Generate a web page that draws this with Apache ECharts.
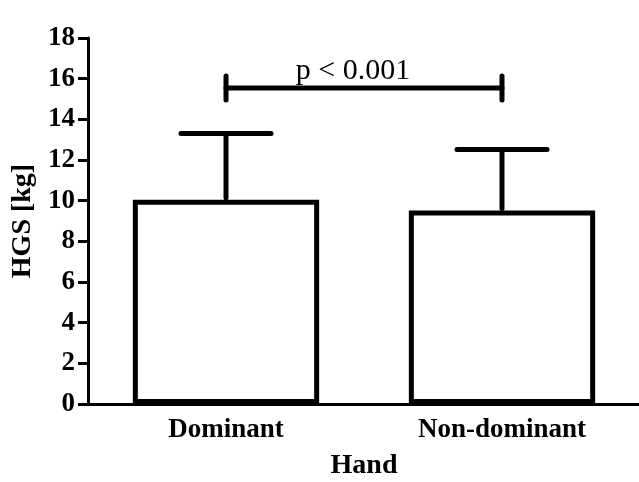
<!DOCTYPE html>
<html><head><meta charset="utf-8">
<script src="https://cdn.jsdelivr.net/npm/echarts@6/dist/echarts.min.js"></script>
<style>html,body{margin:0;padding:0;background:#fff}#c{width:639px;height:482px}</style>
</head><body><div id="c"></div>
<script>
const categories = ['Dominant', 'Non-dominant'];
const means = [10.05, 9.52];
const sdUpper = [13.3, 12.52];
const sigLevel = 15.54;
const sigText = 'p < 0.001';
const yTicks = [0, 2, 4, 6, 8, 10, 12, 14, 16, 18];

const F = '"Liberation Serif", "Times New Roman", serif';
const chart = echarts.init(document.getElementById('c'));
chart.setOption({
  animation: false,
  grid: {left: 88, right: -1, top: 38, bottom: 78, containLabel: false, outerBoundsMode: 'none'},
  xAxis: {
    type: 'category', data: categories,
    axisLine: {lineStyle: {color: '#000', width: 3}},
    axisTick: {alignWithLabel: true, length: 10, lineStyle: {color: '#000', width: 3}},
    axisLabel: {color: '#000', fontFamily: F, fontWeight: 'bold', fontSize: 27, margin: 13},
    name: 'Hand', nameLocation: 'middle', nameGap: 48,
    nameTextStyle: {color: '#000', fontFamily: F, fontWeight: 'bold', fontSize: 28}
  },
  yAxis: {
    type: 'value', min: yTicks[0], max: yTicks[yTicks.length - 1], interval: 2,
    axisLine: {show: true, lineStyle: {color: '#000', width: 3}},
    axisTick: {show: true, length: 10, lineStyle: {color: '#000', width: 3}},
    splitLine: {show: false},
    axisLabel: {color: '#000', fontFamily: F, fontWeight: 'bold', fontSize: 27, margin: 13},
    name: 'HGS [kg]', nameLocation: 'middle', nameGap: 50, nameRotate: 90,
    nameTextStyle: {color: '#000', fontFamily: F, fontWeight: 'bold', fontSize: 28}
  },
  series: [
    {
      type: 'bar', data: means, barWidth: '67.5%', z: 2,
      itemStyle: {color: '#fff', borderColor: '#000', borderWidth: 5}
    },
    {
      type: 'custom', z: 3,
      data: categories.map((c, i) => [i, means[i], sdUpper[i]]),
      renderItem: (params, api) => {
        const base = api.coord([api.value(0), api.value(1)]);
        const top = api.coord([api.value(0), api.value(2)]);
        const half = 45;
        const st = {stroke: '#000', lineWidth: 5, lineCap: 'round'};
        return {type: 'group', children: [
          {type: 'line', shape: {x1: base[0], y1: base[1] - 2, x2: top[0], y2: top[1]}, style: st},
          {type: 'line', shape: {x1: top[0] - half, y1: top[1], x2: top[0] + half, y2: top[1]}, style: st}
        ]};
      }
    },
    {
      type: 'custom', z: 3,
      data: [[0, 1, sigLevel]],
      renderItem: (params, api) => {
        const a = api.coord([api.value(0), api.value(2)]);
        const b = api.coord([api.value(1), api.value(2)]);
        const st = {stroke: '#000', lineWidth: 5, lineCap: 'round'};
        return {type: 'group', children: [
          {type: 'line', shape: {x1: a[0], y1: a[1], x2: b[0], y2: b[1]}, style: st},
          {type: 'line', shape: {x1: a[0], y1: a[1] - 12, x2: a[0], y2: a[1] + 12}, style: st},
          {type: 'line', shape: {x1: b[0], y1: b[1] - 12, x2: b[0], y2: b[1] + 12}, style: st},
          {type: 'text', x: (a[0] + b[0]) / 2 - 11, y: a[1] - 17, style: {text: sigText, fill: '#000', font: '30px ' + F, textAlign: 'center', textVerticalAlign: 'middle'}}
        ]};
      }
    }
  ]
});
</script></body></html>
